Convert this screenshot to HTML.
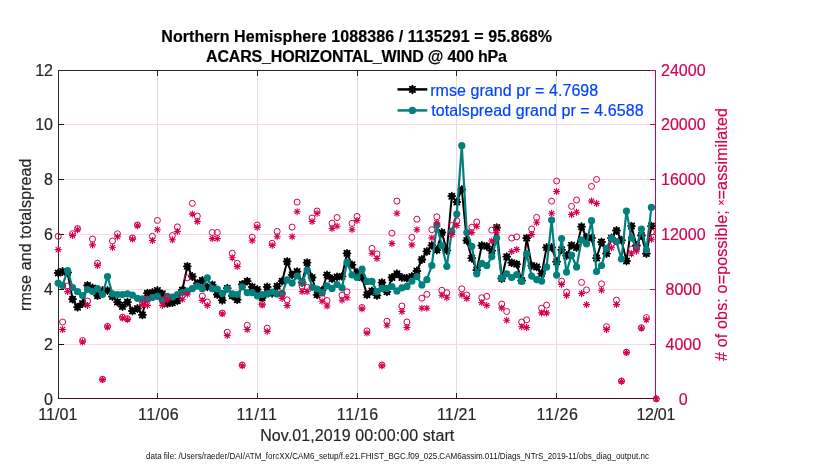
<!DOCTYPE html>
<html><head><meta charset="utf-8"><title>obs diag</title>
<style>html,body{margin:0;padding:0;background:#fff;width:830px;height:470px;overflow:hidden}svg{display:block}</style>
</head><body>
<svg width="830" height="470" viewBox="0 0 830 470">
<rect width="830" height="470" fill="#fff"/>
<g stroke="#dfdfdf" stroke-width="1" shape-rendering="crispEdges">
<line x1="157.5" y1="70" x2="157.5" y2="398"/>
<line x1="257.5" y1="70" x2="257.5" y2="398"/>
<line x1="357.5" y1="70" x2="357.5" y2="398"/>
<line x1="456.5" y1="70" x2="456.5" y2="398"/>
<line x1="556.5" y1="70" x2="556.5" y2="398"/>
</g>
<g stroke="#f8d9e4" stroke-width="1" shape-rendering="crispEdges">
<line x1="59" y1="124.5" x2="655" y2="124.5"/>
<line x1="59" y1="179.5" x2="655" y2="179.5"/>
<line x1="59" y1="234.5" x2="655" y2="234.5"/>
<line x1="59" y1="289.5" x2="655" y2="289.5"/>
<line x1="59" y1="344.5" x2="655" y2="344.5"/>
</g>
<g shape-rendering="crispEdges" stroke-width="1">
<line x1="58.5" y1="70" x2="58.5" y2="399" stroke="#262626"/>
<line x1="58" y1="70.5" x2="655" y2="70.5" stroke="#262626"/>
<line x1="58" y1="398.5" x2="656" y2="398.5" stroke="#3a1020"/>
<line x1="59" y1="124.5" x2="64" y2="124.5" stroke="#2a0810"/>
<line x1="59" y1="179.5" x2="64" y2="179.5" stroke="#2a0810"/>
<line x1="59" y1="234.5" x2="64" y2="234.5" stroke="#2a0810"/>
<line x1="59" y1="289.5" x2="64" y2="289.5" stroke="#2a0810"/>
<line x1="59" y1="344.5" x2="64" y2="344.5" stroke="#2a0810"/>
<line x1="157.5" y1="393" x2="157.5" y2="398" stroke="#262626"/>
<line x1="157.5" y1="71" x2="157.5" y2="76" stroke="#262626"/>
<line x1="257.5" y1="393" x2="257.5" y2="398" stroke="#262626"/>
<line x1="257.5" y1="71" x2="257.5" y2="76" stroke="#262626"/>
<line x1="357.5" y1="393" x2="357.5" y2="398" stroke="#262626"/>
<line x1="357.5" y1="71" x2="357.5" y2="76" stroke="#262626"/>
<line x1="456.5" y1="393" x2="456.5" y2="398" stroke="#262626"/>
<line x1="456.5" y1="71" x2="456.5" y2="76" stroke="#262626"/>
<line x1="556.5" y1="393" x2="556.5" y2="398" stroke="#262626"/>
<line x1="556.5" y1="71" x2="556.5" y2="76" stroke="#262626"/>
<line x1="650" y1="70.5" x2="655" y2="70.5" stroke="#d6004f"/>
<line x1="650" y1="124.5" x2="655" y2="124.5" stroke="#d6004f"/>
<line x1="650" y1="179.5" x2="655" y2="179.5" stroke="#d6004f"/>
<line x1="650" y1="234.5" x2="655" y2="234.5" stroke="#d6004f"/>
<line x1="650" y1="289.5" x2="655" y2="289.5" stroke="#d6004f"/>
<line x1="650" y1="344.5" x2="655" y2="344.5" stroke="#d6004f"/>
<line x1="655.5" y1="70" x2="655.5" y2="399" stroke="#d6004f"/>
</g>
<polyline points="58.20,273.0 62.59,271.5 67.58,272.5 72.57,299.2 77.56,307.2 82.55,303.5 87.54,285.4 92.53,288.0 97.52,295.7 102.51,290.5 107.50,290.5 112.49,296.5 117.48,302.1 122.47,306.5 127.46,302.1 132.45,311.0 137.44,308.5 142.43,314.9 147.42,293.2 152.41,292.5 157.40,290.5 162.39,293.8 167.38,303.4 172.37,302.7 177.36,300.8 182.35,290.0 187.34,266.3 192.33,276.5 197.32,283.5 202.31,280.4 207.30,286.8 212.29,284.8 217.28,294.5 222.27,300.3 227.26,288.2 232.25,295.8 237.24,299.7 242.23,284.3 247.22,281.2 252.21,286.9 257.20,289.5 262.19,297.8 267.18,286.9 272.17,293.3 277.16,286.3 282.15,281.2 287.14,261.4 292.13,274.8 297.12,271.6 302.11,282.5 307.10,262.6 312.09,277.5 317.08,294.8 322.07,290.3 327.06,275.0 332.05,278.8 337.04,276.9 342.03,276.3 347.02,253.3 352.01,264.8 357.00,272.5 361.99,277.5 366.98,294.8 371.97,290.9 376.96,295.4 381.95,282.6 386.94,291.8 391.93,277.5 396.92,273.7 401.91,277.5 406.90,278.2 411.89,276.5 416.88,271.0 421.87,259.5 426.86,251.4 431.85,245.4 436.84,250.1 441.83,232.5 446.82,250.5 451.81,196.2 456.80,202.0 461.79,189.5 466.78,240.5 471.77,258.2 476.76,270.1 481.75,245.5 486.74,246.3 491.73,250.7 496.72,227.6 501.71,278.5 506.70,256.7 511.69,262.7 516.68,264.2 521.67,280.5 526.66,238.1 531.65,265.6 536.64,266.9 541.63,273.6 546.62,247.5 551.61,247.5 556.60,261.7 561.59,249.8 566.58,255.5 571.57,245.3 576.56,247.5 581.55,226.7 586.54,237.5 591.53,237.9 596.52,258.1 601.51,242.0 606.50,253.6 611.49,238.0 616.48,230.5 621.47,240.2 626.46,261.0 631.45,226.1 636.44,245.5 641.43,235.5 646.42,253.6 651.41,226.1" fill="none" stroke="#000" stroke-width="2" stroke-linejoin="round"/>
<path d="M54.70 273.0h7M58.20 269.5v7M55.60 270.4l5.2 5.2M55.60 275.6l5.2 -5.2M59.09 271.5h7M62.59 268.0v7M59.99 268.9l5.2 5.2M59.99 274.1l5.2 -5.2M64.08 272.5h7M67.58 269.0v7M64.98 269.9l5.2 5.2M64.98 275.1l5.2 -5.2M69.07 299.2h7M72.57 295.7v7M69.97 296.6l5.2 5.2M69.97 301.8l5.2 -5.2M74.06 307.2h7M77.56 303.7v7M74.96 304.6l5.2 5.2M74.96 309.8l5.2 -5.2M79.05 303.5h7M82.55 300.0v7M79.95 300.9l5.2 5.2M79.95 306.1l5.2 -5.2M84.04 285.4h7M87.54 281.9v7M84.94 282.8l5.2 5.2M84.94 288.0l5.2 -5.2M89.03 288.0h7M92.53 284.5v7M89.93 285.4l5.2 5.2M89.93 290.6l5.2 -5.2M94.02 295.7h7M97.52 292.2v7M94.92 293.1l5.2 5.2M94.92 298.3l5.2 -5.2M99.01 290.5h7M102.51 287.0v7M99.91 287.9l5.2 5.2M99.91 293.1l5.2 -5.2M104.00 290.5h7M107.50 287.0v7M104.90 287.9l5.2 5.2M104.90 293.1l5.2 -5.2M108.99 296.5h7M112.49 293.0v7M109.89 293.9l5.2 5.2M109.89 299.1l5.2 -5.2M113.98 302.1h7M117.48 298.6v7M114.88 299.5l5.2 5.2M114.88 304.7l5.2 -5.2M118.97 306.5h7M122.47 303.0v7M119.87 303.9l5.2 5.2M119.87 309.1l5.2 -5.2M123.96 302.1h7M127.46 298.6v7M124.86 299.5l5.2 5.2M124.86 304.7l5.2 -5.2M128.95 311.0h7M132.45 307.5v7M129.85 308.4l5.2 5.2M129.85 313.6l5.2 -5.2M133.94 308.5h7M137.44 305.0v7M134.84 305.9l5.2 5.2M134.84 311.1l5.2 -5.2M138.93 314.9h7M142.43 311.4v7M139.83 312.3l5.2 5.2M139.83 317.5l5.2 -5.2M143.92 293.2h7M147.42 289.7v7M144.82 290.6l5.2 5.2M144.82 295.8l5.2 -5.2M148.91 292.5h7M152.41 289.0v7M149.81 289.9l5.2 5.2M149.81 295.1l5.2 -5.2M153.90 290.5h7M157.40 287.0v7M154.80 287.9l5.2 5.2M154.80 293.1l5.2 -5.2M158.89 293.8h7M162.39 290.3v7M159.79 291.2l5.2 5.2M159.79 296.4l5.2 -5.2M163.88 303.4h7M167.38 299.9v7M164.78 300.8l5.2 5.2M164.78 306.0l5.2 -5.2M168.87 302.7h7M172.37 299.2v7M169.77 300.1l5.2 5.2M169.77 305.3l5.2 -5.2M173.86 300.8h7M177.36 297.3v7M174.76 298.2l5.2 5.2M174.76 303.4l5.2 -5.2M178.85 290.0h7M182.35 286.5v7M179.75 287.4l5.2 5.2M179.75 292.6l5.2 -5.2M183.84 266.3h7M187.34 262.8v7M184.74 263.7l5.2 5.2M184.74 268.9l5.2 -5.2M188.83 276.5h7M192.33 273.0v7M189.73 273.9l5.2 5.2M189.73 279.1l5.2 -5.2M193.82 283.5h7M197.32 280.0v7M194.72 280.9l5.2 5.2M194.72 286.1l5.2 -5.2M198.81 280.4h7M202.31 276.9v7M199.71 277.8l5.2 5.2M199.71 283.0l5.2 -5.2M203.80 286.8h7M207.30 283.3v7M204.70 284.2l5.2 5.2M204.70 289.4l5.2 -5.2M208.79 284.8h7M212.29 281.3v7M209.69 282.2l5.2 5.2M209.69 287.4l5.2 -5.2M213.78 294.5h7M217.28 291.0v7M214.68 291.9l5.2 5.2M214.68 297.1l5.2 -5.2M218.77 300.3h7M222.27 296.8v7M219.67 297.7l5.2 5.2M219.67 302.9l5.2 -5.2M223.76 288.2h7M227.26 284.7v7M224.66 285.6l5.2 5.2M224.66 290.8l5.2 -5.2M228.75 295.8h7M232.25 292.3v7M229.65 293.2l5.2 5.2M229.65 298.4l5.2 -5.2M233.74 299.7h7M237.24 296.2v7M234.64 297.1l5.2 5.2M234.64 302.3l5.2 -5.2M238.73 284.3h7M242.23 280.8v7M239.63 281.7l5.2 5.2M239.63 286.9l5.2 -5.2M243.72 281.2h7M247.22 277.7v7M244.62 278.6l5.2 5.2M244.62 283.8l5.2 -5.2M248.71 286.9h7M252.21 283.4v7M249.61 284.3l5.2 5.2M249.61 289.5l5.2 -5.2M253.70 289.5h7M257.20 286.0v7M254.60 286.9l5.2 5.2M254.60 292.1l5.2 -5.2M258.69 297.8h7M262.19 294.3v7M259.59 295.2l5.2 5.2M259.59 300.4l5.2 -5.2M263.68 286.9h7M267.18 283.4v7M264.58 284.3l5.2 5.2M264.58 289.5l5.2 -5.2M268.67 293.3h7M272.17 289.8v7M269.57 290.7l5.2 5.2M269.57 295.9l5.2 -5.2M273.66 286.3h7M277.16 282.8v7M274.56 283.7l5.2 5.2M274.56 288.9l5.2 -5.2M278.65 281.2h7M282.15 277.7v7M279.55 278.6l5.2 5.2M279.55 283.8l5.2 -5.2M283.64 261.4h7M287.14 257.9v7M284.54 258.8l5.2 5.2M284.54 264.0l5.2 -5.2M288.63 274.8h7M292.13 271.3v7M289.53 272.2l5.2 5.2M289.53 277.4l5.2 -5.2M293.62 271.6h7M297.12 268.1v7M294.52 269.0l5.2 5.2M294.52 274.2l5.2 -5.2M298.61 282.5h7M302.11 279.0v7M299.51 279.9l5.2 5.2M299.51 285.1l5.2 -5.2M303.60 262.6h7M307.10 259.1v7M304.50 260.0l5.2 5.2M304.50 265.2l5.2 -5.2M308.59 277.5h7M312.09 274.0v7M309.49 274.9l5.2 5.2M309.49 280.1l5.2 -5.2M313.58 294.8h7M317.08 291.3v7M314.48 292.2l5.2 5.2M314.48 297.4l5.2 -5.2M318.57 290.3h7M322.07 286.8v7M319.47 287.7l5.2 5.2M319.47 292.9l5.2 -5.2M323.56 275.0h7M327.06 271.5v7M324.46 272.4l5.2 5.2M324.46 277.6l5.2 -5.2M328.55 278.8h7M332.05 275.3v7M329.45 276.2l5.2 5.2M329.45 281.4l5.2 -5.2M333.54 276.9h7M337.04 273.4v7M334.44 274.3l5.2 5.2M334.44 279.5l5.2 -5.2M338.53 276.3h7M342.03 272.8v7M339.43 273.7l5.2 5.2M339.43 278.9l5.2 -5.2M343.52 253.3h7M347.02 249.8v7M344.42 250.7l5.2 5.2M344.42 255.9l5.2 -5.2M348.51 264.8h7M352.01 261.3v7M349.41 262.2l5.2 5.2M349.41 267.4l5.2 -5.2M353.50 272.5h7M357.00 269.0v7M354.40 269.9l5.2 5.2M354.40 275.1l5.2 -5.2M358.49 277.5h7M361.99 274.0v7M359.39 274.9l5.2 5.2M359.39 280.1l5.2 -5.2M363.48 294.8h7M366.98 291.3v7M364.38 292.2l5.2 5.2M364.38 297.4l5.2 -5.2M368.47 290.9h7M371.97 287.4v7M369.37 288.3l5.2 5.2M369.37 293.5l5.2 -5.2M373.46 295.4h7M376.96 291.9v7M374.36 292.8l5.2 5.2M374.36 298.0l5.2 -5.2M378.45 282.6h7M381.95 279.1v7M379.35 280.0l5.2 5.2M379.35 285.2l5.2 -5.2M383.44 291.8h7M386.94 288.3v7M384.34 289.2l5.2 5.2M384.34 294.4l5.2 -5.2M388.43 277.5h7M391.93 274.0v7M389.33 274.9l5.2 5.2M389.33 280.1l5.2 -5.2M393.42 273.7h7M396.92 270.2v7M394.32 271.1l5.2 5.2M394.32 276.3l5.2 -5.2M398.41 277.5h7M401.91 274.0v7M399.31 274.9l5.2 5.2M399.31 280.1l5.2 -5.2M403.40 278.2h7M406.90 274.7v7M404.30 275.6l5.2 5.2M404.30 280.8l5.2 -5.2M408.39 276.5h7M411.89 273.0v7M409.29 273.9l5.2 5.2M409.29 279.1l5.2 -5.2M413.38 271.0h7M416.88 267.5v7M414.28 268.4l5.2 5.2M414.28 273.6l5.2 -5.2M418.37 259.5h7M421.87 256.0v7M419.27 256.9l5.2 5.2M419.27 262.1l5.2 -5.2M423.36 251.4h7M426.86 247.9v7M424.26 248.8l5.2 5.2M424.26 254.0l5.2 -5.2M428.35 245.4h7M431.85 241.9v7M429.25 242.8l5.2 5.2M429.25 248.0l5.2 -5.2M433.34 250.1h7M436.84 246.6v7M434.24 247.5l5.2 5.2M434.24 252.7l5.2 -5.2M438.33 232.5h7M441.83 229.0v7M439.23 229.9l5.2 5.2M439.23 235.1l5.2 -5.2M443.32 250.5h7M446.82 247.0v7M444.22 247.9l5.2 5.2M444.22 253.1l5.2 -5.2M448.31 196.2h7M451.81 192.7v7M449.21 193.6l5.2 5.2M449.21 198.8l5.2 -5.2M453.30 202.0h7M456.80 198.5v7M454.20 199.4l5.2 5.2M454.20 204.6l5.2 -5.2M458.29 189.5h7M461.79 186.0v7M459.19 186.9l5.2 5.2M459.19 192.1l5.2 -5.2M463.28 240.5h7M466.78 237.0v7M464.18 237.9l5.2 5.2M464.18 243.1l5.2 -5.2M468.27 258.2h7M471.77 254.7v7M469.17 255.6l5.2 5.2M469.17 260.8l5.2 -5.2M473.26 270.1h7M476.76 266.6v7M474.16 267.5l5.2 5.2M474.16 272.7l5.2 -5.2M478.25 245.5h7M481.75 242.0v7M479.15 242.9l5.2 5.2M479.15 248.1l5.2 -5.2M483.24 246.3h7M486.74 242.8v7M484.14 243.7l5.2 5.2M484.14 248.9l5.2 -5.2M488.23 250.7h7M491.73 247.2v7M489.13 248.1l5.2 5.2M489.13 253.3l5.2 -5.2M493.22 227.6h7M496.72 224.1v7M494.12 225.0l5.2 5.2M494.12 230.2l5.2 -5.2M498.21 278.5h7M501.71 275.0v7M499.11 275.9l5.2 5.2M499.11 281.1l5.2 -5.2M503.20 256.7h7M506.70 253.2v7M504.10 254.1l5.2 5.2M504.10 259.3l5.2 -5.2M508.19 262.7h7M511.69 259.2v7M509.09 260.1l5.2 5.2M509.09 265.3l5.2 -5.2M513.18 264.2h7M516.68 260.7v7M514.08 261.6l5.2 5.2M514.08 266.8l5.2 -5.2M518.17 280.5h7M521.67 277.0v7M519.07 277.9l5.2 5.2M519.07 283.1l5.2 -5.2M523.16 238.1h7M526.66 234.6v7M524.06 235.5l5.2 5.2M524.06 240.7l5.2 -5.2M528.15 265.6h7M531.65 262.1v7M529.05 263.0l5.2 5.2M529.05 268.2l5.2 -5.2M533.14 266.9h7M536.64 263.4v7M534.04 264.3l5.2 5.2M534.04 269.5l5.2 -5.2M538.13 273.6h7M541.63 270.1v7M539.03 271.0l5.2 5.2M539.03 276.2l5.2 -5.2M543.12 247.5h7M546.62 244.0v7M544.02 244.9l5.2 5.2M544.02 250.1l5.2 -5.2M548.11 247.5h7M551.61 244.0v7M549.01 244.9l5.2 5.2M549.01 250.1l5.2 -5.2M553.10 261.7h7M556.60 258.2v7M554.00 259.1l5.2 5.2M554.00 264.3l5.2 -5.2M558.09 249.8h7M561.59 246.3v7M558.99 247.2l5.2 5.2M558.99 252.4l5.2 -5.2M563.08 255.5h7M566.58 252.0v7M563.98 252.9l5.2 5.2M563.98 258.1l5.2 -5.2M568.07 245.3h7M571.57 241.8v7M568.97 242.7l5.2 5.2M568.97 247.9l5.2 -5.2M573.06 247.5h7M576.56 244.0v7M573.96 244.9l5.2 5.2M573.96 250.1l5.2 -5.2M578.05 226.7h7M581.55 223.2v7M578.95 224.1l5.2 5.2M578.95 229.3l5.2 -5.2M583.04 237.5h7M586.54 234.0v7M583.94 234.9l5.2 5.2M583.94 240.1l5.2 -5.2M588.03 237.9h7M591.53 234.4v7M588.93 235.3l5.2 5.2M588.93 240.5l5.2 -5.2M593.02 258.1h7M596.52 254.6v7M593.92 255.5l5.2 5.2M593.92 260.7l5.2 -5.2M598.01 242.0h7M601.51 238.5v7M598.91 239.4l5.2 5.2M598.91 244.6l5.2 -5.2M603.00 253.6h7M606.50 250.1v7M603.90 251.0l5.2 5.2M603.90 256.2l5.2 -5.2M607.99 238.0h7M611.49 234.5v7M608.89 235.4l5.2 5.2M608.89 240.6l5.2 -5.2M612.98 230.5h7M616.48 227.0v7M613.88 227.9l5.2 5.2M613.88 233.1l5.2 -5.2M617.97 240.2h7M621.47 236.7v7M618.87 237.6l5.2 5.2M618.87 242.8l5.2 -5.2M622.96 261.0h7M626.46 257.5v7M623.86 258.4l5.2 5.2M623.86 263.6l5.2 -5.2M627.95 226.1h7M631.45 222.6v7M628.85 223.5l5.2 5.2M628.85 228.7l5.2 -5.2M632.94 245.5h7M636.44 242.0v7M633.84 242.9l5.2 5.2M633.84 248.1l5.2 -5.2M637.93 235.5h7M641.43 232.0v7M638.83 232.9l5.2 5.2M638.83 238.1l5.2 -5.2M642.92 253.6h7M646.42 250.1v7M643.82 251.0l5.2 5.2M643.82 256.2l5.2 -5.2M647.91 226.1h7M651.41 222.6v7M648.81 223.5l5.2 5.2M648.81 228.7l5.2 -5.2" stroke="#000" stroke-width="1.8" stroke-linecap="round" fill="none"/>
<g fill="#000"><circle cx="58.20" cy="273.0" r="3.1"/><circle cx="62.59" cy="271.5" r="3.1"/><circle cx="67.58" cy="272.5" r="3.1"/><circle cx="72.57" cy="299.2" r="3.1"/><circle cx="77.56" cy="307.2" r="3.1"/><circle cx="82.55" cy="303.5" r="3.1"/><circle cx="87.54" cy="285.4" r="3.1"/><circle cx="92.53" cy="288.0" r="3.1"/><circle cx="97.52" cy="295.7" r="3.1"/><circle cx="102.51" cy="290.5" r="3.1"/><circle cx="107.50" cy="290.5" r="3.1"/><circle cx="112.49" cy="296.5" r="3.1"/><circle cx="117.48" cy="302.1" r="3.1"/><circle cx="122.47" cy="306.5" r="3.1"/><circle cx="127.46" cy="302.1" r="3.1"/><circle cx="132.45" cy="311.0" r="3.1"/><circle cx="137.44" cy="308.5" r="3.1"/><circle cx="142.43" cy="314.9" r="3.1"/><circle cx="147.42" cy="293.2" r="3.1"/><circle cx="152.41" cy="292.5" r="3.1"/><circle cx="157.40" cy="290.5" r="3.1"/><circle cx="162.39" cy="293.8" r="3.1"/><circle cx="167.38" cy="303.4" r="3.1"/><circle cx="172.37" cy="302.7" r="3.1"/><circle cx="177.36" cy="300.8" r="3.1"/><circle cx="182.35" cy="290.0" r="3.1"/><circle cx="187.34" cy="266.3" r="3.1"/><circle cx="192.33" cy="276.5" r="3.1"/><circle cx="197.32" cy="283.5" r="3.1"/><circle cx="202.31" cy="280.4" r="3.1"/><circle cx="207.30" cy="286.8" r="3.1"/><circle cx="212.29" cy="284.8" r="3.1"/><circle cx="217.28" cy="294.5" r="3.1"/><circle cx="222.27" cy="300.3" r="3.1"/><circle cx="227.26" cy="288.2" r="3.1"/><circle cx="232.25" cy="295.8" r="3.1"/><circle cx="237.24" cy="299.7" r="3.1"/><circle cx="242.23" cy="284.3" r="3.1"/><circle cx="247.22" cy="281.2" r="3.1"/><circle cx="252.21" cy="286.9" r="3.1"/><circle cx="257.20" cy="289.5" r="3.1"/><circle cx="262.19" cy="297.8" r="3.1"/><circle cx="267.18" cy="286.9" r="3.1"/><circle cx="272.17" cy="293.3" r="3.1"/><circle cx="277.16" cy="286.3" r="3.1"/><circle cx="282.15" cy="281.2" r="3.1"/><circle cx="287.14" cy="261.4" r="3.1"/><circle cx="292.13" cy="274.8" r="3.1"/><circle cx="297.12" cy="271.6" r="3.1"/><circle cx="302.11" cy="282.5" r="3.1"/><circle cx="307.10" cy="262.6" r="3.1"/><circle cx="312.09" cy="277.5" r="3.1"/><circle cx="317.08" cy="294.8" r="3.1"/><circle cx="322.07" cy="290.3" r="3.1"/><circle cx="327.06" cy="275.0" r="3.1"/><circle cx="332.05" cy="278.8" r="3.1"/><circle cx="337.04" cy="276.9" r="3.1"/><circle cx="342.03" cy="276.3" r="3.1"/><circle cx="347.02" cy="253.3" r="3.1"/><circle cx="352.01" cy="264.8" r="3.1"/><circle cx="357.00" cy="272.5" r="3.1"/><circle cx="361.99" cy="277.5" r="3.1"/><circle cx="366.98" cy="294.8" r="3.1"/><circle cx="371.97" cy="290.9" r="3.1"/><circle cx="376.96" cy="295.4" r="3.1"/><circle cx="381.95" cy="282.6" r="3.1"/><circle cx="386.94" cy="291.8" r="3.1"/><circle cx="391.93" cy="277.5" r="3.1"/><circle cx="396.92" cy="273.7" r="3.1"/><circle cx="401.91" cy="277.5" r="3.1"/><circle cx="406.90" cy="278.2" r="3.1"/><circle cx="411.89" cy="276.5" r="3.1"/><circle cx="416.88" cy="271.0" r="3.1"/><circle cx="421.87" cy="259.5" r="3.1"/><circle cx="426.86" cy="251.4" r="3.1"/><circle cx="431.85" cy="245.4" r="3.1"/><circle cx="436.84" cy="250.1" r="3.1"/><circle cx="441.83" cy="232.5" r="3.1"/><circle cx="446.82" cy="250.5" r="3.1"/><circle cx="451.81" cy="196.2" r="3.1"/><circle cx="456.80" cy="202.0" r="3.1"/><circle cx="461.79" cy="189.5" r="3.1"/><circle cx="466.78" cy="240.5" r="3.1"/><circle cx="471.77" cy="258.2" r="3.1"/><circle cx="476.76" cy="270.1" r="3.1"/><circle cx="481.75" cy="245.5" r="3.1"/><circle cx="486.74" cy="246.3" r="3.1"/><circle cx="491.73" cy="250.7" r="3.1"/><circle cx="496.72" cy="227.6" r="3.1"/><circle cx="501.71" cy="278.5" r="3.1"/><circle cx="506.70" cy="256.7" r="3.1"/><circle cx="511.69" cy="262.7" r="3.1"/><circle cx="516.68" cy="264.2" r="3.1"/><circle cx="521.67" cy="280.5" r="3.1"/><circle cx="526.66" cy="238.1" r="3.1"/><circle cx="531.65" cy="265.6" r="3.1"/><circle cx="536.64" cy="266.9" r="3.1"/><circle cx="541.63" cy="273.6" r="3.1"/><circle cx="546.62" cy="247.5" r="3.1"/><circle cx="551.61" cy="247.5" r="3.1"/><circle cx="556.60" cy="261.7" r="3.1"/><circle cx="561.59" cy="249.8" r="3.1"/><circle cx="566.58" cy="255.5" r="3.1"/><circle cx="571.57" cy="245.3" r="3.1"/><circle cx="576.56" cy="247.5" r="3.1"/><circle cx="581.55" cy="226.7" r="3.1"/><circle cx="586.54" cy="237.5" r="3.1"/><circle cx="591.53" cy="237.9" r="3.1"/><circle cx="596.52" cy="258.1" r="3.1"/><circle cx="601.51" cy="242.0" r="3.1"/><circle cx="606.50" cy="253.6" r="3.1"/><circle cx="611.49" cy="238.0" r="3.1"/><circle cx="616.48" cy="230.5" r="3.1"/><circle cx="621.47" cy="240.2" r="3.1"/><circle cx="626.46" cy="261.0" r="3.1"/><circle cx="631.45" cy="226.1" r="3.1"/><circle cx="636.44" cy="245.5" r="3.1"/><circle cx="641.43" cy="235.5" r="3.1"/><circle cx="646.42" cy="253.6" r="3.1"/><circle cx="651.41" cy="226.1" r="3.1"/></g>
<polyline points="58.20,283.2 62.59,285.4 67.58,270.5 72.57,287.5 77.56,291.7 82.55,295.5 87.54,289.5 92.53,291.5 97.52,288.5 102.51,294.5 107.50,276.5 112.49,293.8 117.48,294.5 122.47,294.5 127.46,293.8 132.45,295.1 137.44,298.3 142.43,298.9 147.42,299.5 152.41,297.5 157.40,296.3 162.39,300.2 167.38,296.3 172.37,297.0 177.36,294.5 182.35,292.5 187.34,291.2 192.33,288.7 197.32,286.1 202.31,288.7 207.30,277.8 212.29,288.7 217.28,289.0 222.27,293.3 227.26,288.8 232.25,293.9 237.24,294.5 242.23,286.9 247.22,292.6 252.21,292.6 257.20,295.8 262.19,294.5 267.18,293.9 272.17,292.0 277.16,293.9 282.15,293.3 287.14,279.9 292.13,283.1 297.12,276.0 302.11,282.5 307.10,270.0 312.09,287.3 317.08,289.0 322.07,292.9 327.06,285.8 332.05,288.4 337.04,284.5 342.03,287.8 347.02,262.2 352.01,275.0 357.00,277.5 361.99,269.2 366.98,281.4 371.97,281.4 376.96,291.6 381.95,288.4 386.94,288.4 391.93,286.5 396.92,290.9 401.91,287.8 406.90,286.4 411.89,281.2 416.88,276.7 421.87,284.9 426.86,279.7 431.85,265.5 436.84,225.0 441.83,245.5 446.82,266.3 451.81,231.4 456.80,214.1 461.79,145.7 466.78,232.5 471.77,246.3 476.76,273.8 481.75,263.4 486.74,265.6 491.73,256.7 496.72,238.1 501.71,277.8 506.70,273.8 511.69,277.5 516.68,274.6 521.67,281.5 526.66,253.7 531.65,276.1 536.64,279.6 541.63,281.1 546.62,266.9 551.61,220.0 556.60,275.1 561.59,238.6 566.58,272.1 571.57,255.0 576.56,266.9 581.55,240.1 586.54,243.8 591.53,220.7 596.52,271.5 601.51,265.5 606.50,248.4 611.49,238.0 616.48,241.7 621.47,259.0 626.46,211.1 631.45,238.0 636.44,248.0 641.43,229.0 646.42,249.9 651.41,207.4" fill="none" stroke="#02807e" stroke-width="2.2" stroke-linejoin="round"/>
<g fill="#02807e">
<circle cx="58.20" cy="283.2" r="3.6"/>
<circle cx="62.59" cy="285.4" r="3.6"/>
<circle cx="67.58" cy="270.5" r="3.6"/>
<circle cx="72.57" cy="287.5" r="3.6"/>
<circle cx="77.56" cy="291.7" r="3.6"/>
<circle cx="82.55" cy="295.5" r="3.6"/>
<circle cx="87.54" cy="289.5" r="3.6"/>
<circle cx="92.53" cy="291.5" r="3.6"/>
<circle cx="97.52" cy="288.5" r="3.6"/>
<circle cx="102.51" cy="294.5" r="3.6"/>
<circle cx="107.50" cy="276.5" r="3.6"/>
<circle cx="112.49" cy="293.8" r="3.6"/>
<circle cx="117.48" cy="294.5" r="3.6"/>
<circle cx="122.47" cy="294.5" r="3.6"/>
<circle cx="127.46" cy="293.8" r="3.6"/>
<circle cx="132.45" cy="295.1" r="3.6"/>
<circle cx="137.44" cy="298.3" r="3.6"/>
<circle cx="142.43" cy="298.9" r="3.6"/>
<circle cx="147.42" cy="299.5" r="3.6"/>
<circle cx="152.41" cy="297.5" r="3.6"/>
<circle cx="157.40" cy="296.3" r="3.6"/>
<circle cx="162.39" cy="300.2" r="3.6"/>
<circle cx="167.38" cy="296.3" r="3.6"/>
<circle cx="172.37" cy="297.0" r="3.6"/>
<circle cx="177.36" cy="294.5" r="3.6"/>
<circle cx="182.35" cy="292.5" r="3.6"/>
<circle cx="187.34" cy="291.2" r="3.6"/>
<circle cx="192.33" cy="288.7" r="3.6"/>
<circle cx="197.32" cy="286.1" r="3.6"/>
<circle cx="202.31" cy="288.7" r="3.6"/>
<circle cx="207.30" cy="277.8" r="3.6"/>
<circle cx="212.29" cy="288.7" r="3.6"/>
<circle cx="217.28" cy="289.0" r="3.6"/>
<circle cx="222.27" cy="293.3" r="3.6"/>
<circle cx="227.26" cy="288.8" r="3.6"/>
<circle cx="232.25" cy="293.9" r="3.6"/>
<circle cx="237.24" cy="294.5" r="3.6"/>
<circle cx="242.23" cy="286.9" r="3.6"/>
<circle cx="247.22" cy="292.6" r="3.6"/>
<circle cx="252.21" cy="292.6" r="3.6"/>
<circle cx="257.20" cy="295.8" r="3.6"/>
<circle cx="262.19" cy="294.5" r="3.6"/>
<circle cx="267.18" cy="293.9" r="3.6"/>
<circle cx="272.17" cy="292.0" r="3.6"/>
<circle cx="277.16" cy="293.9" r="3.6"/>
<circle cx="282.15" cy="293.3" r="3.6"/>
<circle cx="287.14" cy="279.9" r="3.6"/>
<circle cx="292.13" cy="283.1" r="3.6"/>
<circle cx="297.12" cy="276.0" r="3.6"/>
<circle cx="302.11" cy="282.5" r="3.6"/>
<circle cx="307.10" cy="270.0" r="3.6"/>
<circle cx="312.09" cy="287.3" r="3.6"/>
<circle cx="317.08" cy="289.0" r="3.6"/>
<circle cx="322.07" cy="292.9" r="3.6"/>
<circle cx="327.06" cy="285.8" r="3.6"/>
<circle cx="332.05" cy="288.4" r="3.6"/>
<circle cx="337.04" cy="284.5" r="3.6"/>
<circle cx="342.03" cy="287.8" r="3.6"/>
<circle cx="347.02" cy="262.2" r="3.6"/>
<circle cx="352.01" cy="275.0" r="3.6"/>
<circle cx="357.00" cy="277.5" r="3.6"/>
<circle cx="361.99" cy="269.2" r="3.6"/>
<circle cx="366.98" cy="281.4" r="3.6"/>
<circle cx="371.97" cy="281.4" r="3.6"/>
<circle cx="376.96" cy="291.6" r="3.6"/>
<circle cx="381.95" cy="288.4" r="3.6"/>
<circle cx="386.94" cy="288.4" r="3.6"/>
<circle cx="391.93" cy="286.5" r="3.6"/>
<circle cx="396.92" cy="290.9" r="3.6"/>
<circle cx="401.91" cy="287.8" r="3.6"/>
<circle cx="406.90" cy="286.4" r="3.6"/>
<circle cx="411.89" cy="281.2" r="3.6"/>
<circle cx="416.88" cy="276.7" r="3.6"/>
<circle cx="421.87" cy="284.9" r="3.6"/>
<circle cx="426.86" cy="279.7" r="3.6"/>
<circle cx="431.85" cy="265.5" r="3.6"/>
<circle cx="436.84" cy="225.0" r="3.6"/>
<circle cx="441.83" cy="245.5" r="3.6"/>
<circle cx="446.82" cy="266.3" r="3.6"/>
<circle cx="451.81" cy="231.4" r="3.6"/>
<circle cx="456.80" cy="214.1" r="3.6"/>
<circle cx="461.79" cy="145.7" r="3.6"/>
<circle cx="466.78" cy="232.5" r="3.6"/>
<circle cx="471.77" cy="246.3" r="3.6"/>
<circle cx="476.76" cy="273.8" r="3.6"/>
<circle cx="481.75" cy="263.4" r="3.6"/>
<circle cx="486.74" cy="265.6" r="3.6"/>
<circle cx="491.73" cy="256.7" r="3.6"/>
<circle cx="496.72" cy="238.1" r="3.6"/>
<circle cx="501.71" cy="277.8" r="3.6"/>
<circle cx="506.70" cy="273.8" r="3.6"/>
<circle cx="511.69" cy="277.5" r="3.6"/>
<circle cx="516.68" cy="274.6" r="3.6"/>
<circle cx="521.67" cy="281.5" r="3.6"/>
<circle cx="526.66" cy="253.7" r="3.6"/>
<circle cx="531.65" cy="276.1" r="3.6"/>
<circle cx="536.64" cy="279.6" r="3.6"/>
<circle cx="541.63" cy="281.1" r="3.6"/>
<circle cx="546.62" cy="266.9" r="3.6"/>
<circle cx="551.61" cy="220.0" r="3.6"/>
<circle cx="556.60" cy="275.1" r="3.6"/>
<circle cx="561.59" cy="238.6" r="3.6"/>
<circle cx="566.58" cy="272.1" r="3.6"/>
<circle cx="571.57" cy="255.0" r="3.6"/>
<circle cx="576.56" cy="266.9" r="3.6"/>
<circle cx="581.55" cy="240.1" r="3.6"/>
<circle cx="586.54" cy="243.8" r="3.6"/>
<circle cx="591.53" cy="220.7" r="3.6"/>
<circle cx="596.52" cy="271.5" r="3.6"/>
<circle cx="601.51" cy="265.5" r="3.6"/>
<circle cx="606.50" cy="248.4" r="3.6"/>
<circle cx="611.49" cy="238.0" r="3.6"/>
<circle cx="616.48" cy="241.7" r="3.6"/>
<circle cx="621.47" cy="259.0" r="3.6"/>
<circle cx="626.46" cy="211.1" r="3.6"/>
<circle cx="631.45" cy="238.0" r="3.6"/>
<circle cx="636.44" cy="248.0" r="3.6"/>
<circle cx="641.43" cy="229.0" r="3.6"/>
<circle cx="646.42" cy="249.9" r="3.6"/>
<circle cx="651.41" cy="207.4" r="3.6"/>
</g>
<g fill="none" stroke="#d6004f" stroke-width="1"><circle cx="58.20" cy="236.3" r="3"/><circle cx="62.59" cy="322.0" r="3"/><circle cx="67.58" cy="286.0" r="3"/><circle cx="72.57" cy="233.7" r="3"/><circle cx="77.56" cy="228.5" r="3"/><circle cx="82.55" cy="340.5" r="3"/><circle cx="87.54" cy="301.0" r="3"/><circle cx="92.53" cy="239.1" r="3"/><circle cx="97.52" cy="263.2" r="3"/><circle cx="102.51" cy="379.3" r="3"/><circle cx="107.50" cy="326.3" r="3"/><circle cx="112.49" cy="241.0" r="3"/><circle cx="117.48" cy="233.7" r="3"/><circle cx="122.47" cy="317.2" r="3"/><circle cx="127.46" cy="318.8" r="3"/><circle cx="132.45" cy="237.9" r="3"/><circle cx="137.44" cy="225.0" r="3"/><circle cx="142.43" cy="303.5" r="3"/><circle cx="147.42" cy="299.0" r="3"/><circle cx="152.41" cy="236.3" r="3"/><circle cx="157.40" cy="220.4" r="3"/><circle cx="162.39" cy="300.4" r="3"/><circle cx="167.38" cy="297.5" r="3"/><circle cx="172.37" cy="235.6" r="3"/><circle cx="177.36" cy="226.9" r="3"/><circle cx="182.35" cy="295.3" r="3"/><circle cx="187.34" cy="277.8" r="3"/><circle cx="192.33" cy="203.4" r="3"/><circle cx="197.32" cy="216.0" r="3"/><circle cx="202.31" cy="296.0" r="3"/><circle cx="207.30" cy="302.0" r="3"/><circle cx="212.29" cy="232.5" r="3"/><circle cx="217.28" cy="232.5" r="3"/><circle cx="222.27" cy="313.0" r="3"/><circle cx="227.26" cy="332.2" r="3"/><circle cx="232.25" cy="253.2" r="3"/><circle cx="237.24" cy="263.3" r="3"/><circle cx="242.23" cy="365.0" r="3"/><circle cx="247.22" cy="325.3" r="3"/><circle cx="252.21" cy="237.2" r="3"/><circle cx="257.20" cy="225.0" r="3"/><circle cx="262.19" cy="304.3" r="3"/><circle cx="267.18" cy="328.1" r="3"/><circle cx="272.17" cy="243.3" r="3"/><circle cx="277.16" cy="231.4" r="3"/><circle cx="282.15" cy="294.2" r="3"/><circle cx="287.14" cy="299.8" r="3"/><circle cx="292.13" cy="227.1" r="3"/><circle cx="297.12" cy="202.1" r="3"/><circle cx="302.11" cy="286.2" r="3"/><circle cx="307.10" cy="287.2" r="3"/><circle cx="312.09" cy="218.0" r="3"/><circle cx="317.08" cy="211.0" r="3"/><circle cx="322.07" cy="297.6" r="3"/><circle cx="327.06" cy="300.5" r="3"/><circle cx="332.05" cy="223.2" r="3"/><circle cx="337.04" cy="217.5" r="3"/><circle cx="342.03" cy="295.2" r="3"/><circle cx="347.02" cy="291.8" r="3"/><circle cx="352.01" cy="223.4" r="3"/><circle cx="357.00" cy="216.4" r="3"/><circle cx="361.99" cy="307.5" r="3"/><circle cx="366.98" cy="330.9" r="3"/><circle cx="371.97" cy="248.4" r="3"/><circle cx="376.96" cy="253.9" r="3"/><circle cx="381.95" cy="365.0" r="3"/><circle cx="386.94" cy="321.2" r="3"/><circle cx="391.93" cy="233.2" r="3"/><circle cx="396.92" cy="201.1" r="3"/><circle cx="401.91" cy="306.0" r="3"/><circle cx="406.90" cy="322.0" r="3"/><circle cx="411.89" cy="237.4" r="3"/><circle cx="416.88" cy="219.2" r="3"/><circle cx="421.87" cy="298.2" r="3"/><circle cx="426.86" cy="294.3" r="3"/><circle cx="431.85" cy="229.7" r="3"/><circle cx="436.84" cy="216.8" r="3"/><circle cx="441.83" cy="290.3" r="3"/><circle cx="446.82" cy="292.7" r="3"/><circle cx="451.81" cy="225.5" r="3"/><circle cx="456.80" cy="220.8" r="3"/><circle cx="461.79" cy="288.8" r="3"/><circle cx="466.78" cy="294.9" r="3"/><circle cx="471.77" cy="227.2" r="3"/><circle cx="476.76" cy="222.0" r="3"/><circle cx="481.75" cy="297.7" r="3"/><circle cx="486.74" cy="296.3" r="3"/><circle cx="491.73" cy="230.2" r="3"/><circle cx="496.72" cy="228.0" r="3"/><circle cx="501.71" cy="304.0" r="3"/><circle cx="506.70" cy="311.5" r="3"/><circle cx="511.69" cy="238.1" r="3"/><circle cx="516.68" cy="236.8" r="3"/><circle cx="521.67" cy="322.0" r="3"/><circle cx="526.66" cy="319.8" r="3"/><circle cx="531.65" cy="229.0" r="3"/><circle cx="536.64" cy="217.4" r="3"/><circle cx="541.63" cy="308.2" r="3"/><circle cx="546.62" cy="305.1" r="3"/><circle cx="551.61" cy="201.1" r="3"/><circle cx="556.60" cy="181.0" r="3"/><circle cx="561.59" cy="281.1" r="3"/><circle cx="566.58" cy="292.1" r="3"/><circle cx="571.57" cy="206.3" r="3"/><circle cx="576.56" cy="200.0" r="3"/><circle cx="581.55" cy="282.4" r="3"/><circle cx="586.54" cy="289.9" r="3"/><circle cx="591.53" cy="186.4" r="3"/><circle cx="596.52" cy="179.4" r="3"/><circle cx="601.51" cy="283.8" r="3"/><circle cx="606.50" cy="326.7" r="3"/><circle cx="611.49" cy="244.5" r="3"/><circle cx="616.48" cy="300.2" r="3"/><circle cx="621.47" cy="381.0" r="3"/><circle cx="626.46" cy="352.2" r="3"/><circle cx="631.45" cy="249.0" r="3"/><circle cx="636.44" cy="247.8" r="3"/><circle cx="641.43" cy="327.7" r="3"/><circle cx="646.42" cy="317.6" r="3"/><circle cx="651.41" cy="232.0" r="3"/><circle cx="656.30" cy="398.8" r="3"/></g>
<path d="M54.70 249.6h7M58.20 246.1v7M55.70 247.1l5 5M55.70 252.1l5 -5M59.09 329.5h7M62.59 326.0v7M60.09 327.0l5 5M60.09 332.0l5 -5M64.08 291.6h7M67.58 288.1v7M65.08 289.1l5 5M65.08 294.1l5 -5M69.07 235.6h7M72.57 232.1v7M70.07 233.1l5 5M70.07 238.1l5 -5M74.06 229.7h7M77.56 226.2v7M75.06 227.2l5 5M75.06 232.2l5 -5M79.05 342.0h7M82.55 338.5v7M80.05 339.5l5 5M80.05 344.5l5 -5M84.04 305.4h7M87.54 301.9v7M85.04 302.9l5 5M85.04 307.9l5 -5M89.03 244.9h7M92.53 241.4v7M90.03 242.4l5 5M90.03 247.4l5 -5M94.02 265.5h7M97.52 262.0v7M95.02 263.0l5 5M95.02 268.0l5 -5M99.01 379.6h7M102.51 376.1v7M100.01 377.1l5 5M100.01 382.1l5 -5M104.00 327.0h7M107.50 323.5v7M105.00 324.5l5 5M105.00 329.5l5 -5M108.99 247.3h7M112.49 243.8v7M109.99 244.8l5 5M109.99 249.8l5 -5M113.98 236.7h7M117.48 233.2v7M114.98 234.2l5 5M114.98 239.2l5 -5M118.97 318.0h7M122.47 314.5v7M119.97 315.5l5 5M119.97 320.5l5 -5M123.96 319.5h7M127.46 316.0v7M124.96 317.0l5 5M124.96 322.0l5 -5M128.95 239.1h7M132.45 235.6v7M129.95 236.6l5 5M129.95 241.6l5 -5M133.94 225.7h7M137.44 222.2v7M134.94 223.2l5 5M134.94 228.2l5 -5M138.93 304.5h7M142.43 301.0v7M139.93 302.0l5 5M139.93 307.0l5 -5M143.92 305.4h7M147.42 301.9v7M144.92 302.9l5 5M144.92 307.9l5 -5M148.91 240.5h7M152.41 237.0v7M149.91 238.0l5 5M149.91 243.0l5 -5M153.90 229.7h7M157.40 226.2v7M154.90 227.2l5 5M154.90 232.2l5 -5M158.89 305.4h7M162.39 301.9v7M159.89 302.9l5 5M159.89 307.9l5 -5M163.88 299.8h7M167.38 296.3v7M164.88 297.3l5 5M164.88 302.3l5 -5M168.87 239.8h7M172.37 236.3v7M169.87 237.3l5 5M169.87 242.3l5 -5M173.86 231.6h7M177.36 228.1v7M174.86 229.1l5 5M174.86 234.1l5 -5M178.85 299.3h7M182.35 295.8v7M179.85 296.8l5 5M179.85 301.8l5 -5M183.84 294.2h7M187.34 290.7v7M184.84 291.7l5 5M184.84 296.7l5 -5M188.83 214.1h7M192.33 210.6v7M189.83 211.6l5 5M189.83 216.6l5 -5M193.82 221.5h7M197.32 218.0v7M194.82 219.0l5 5M194.82 224.0l5 -5M198.81 300.4h7M202.31 296.9v7M199.81 297.9l5 5M199.81 302.9l5 -5M203.80 305.4h7M207.30 301.9v7M204.80 302.9l5 5M204.80 307.9l5 -5M208.79 238.6h7M212.29 235.1v7M209.79 236.1l5 5M209.79 241.1l5 -5M213.78 238.6h7M217.28 235.1v7M214.78 236.1l5 5M214.78 241.1l5 -5M218.77 313.8h7M222.27 310.3v7M219.77 311.3l5 5M219.77 316.3l5 -5M223.76 335.6h7M227.26 332.1v7M224.76 333.1l5 5M224.76 338.1l5 -5M228.75 257.8h7M232.25 254.3v7M229.75 255.3l5 5M229.75 260.3l5 -5M233.74 266.6h7M237.24 263.1v7M234.74 264.1l5 5M234.74 269.1l5 -5M238.73 365.8h7M242.23 362.3v7M239.73 363.3l5 5M239.73 368.3l5 -5M243.72 329.5h7M247.22 326.0v7M244.72 327.0l5 5M244.72 332.0l5 -5M248.71 240.7h7M252.21 237.2v7M249.71 238.2l5 5M249.71 243.2l5 -5M253.70 227.4h7M257.20 223.9v7M254.70 224.9l5 5M254.70 229.9l5 -5M258.69 304.8h7M262.19 301.3v7M259.69 302.3l5 5M259.69 307.3l5 -5M263.68 331.4h7M267.18 327.9v7M264.68 328.9l5 5M264.68 333.9l5 -5M268.67 245.4h7M272.17 241.9v7M269.67 242.9l5 5M269.67 247.9l5 -5M273.66 236.7h7M277.16 233.2v7M274.66 234.2l5 5M274.66 239.2l5 -5M278.65 298.4h7M282.15 294.9v7M279.65 295.9l5 5M279.65 300.9l5 -5M283.64 305.5h7M287.14 302.0v7M284.64 303.0l5 5M284.64 308.0l5 -5M288.63 236.7h7M292.13 233.2v7M289.63 234.2l5 5M289.63 239.2l5 -5M293.62 211.7h7M297.12 208.2v7M294.62 209.2l5 5M294.62 214.2l5 -5M298.61 291.5h7M302.11 288.0v7M299.61 289.0l5 5M299.61 294.0l5 -5M303.60 291.5h7M307.10 288.0v7M304.60 289.0l5 5M304.60 294.0l5 -5M308.59 221.5h7M312.09 218.0v7M309.59 219.0l5 5M309.59 224.0l5 -5M313.58 213.3h7M317.08 209.8v7M314.58 210.8l5 5M314.58 215.8l5 -5M318.57 301.3h7M322.07 297.8v7M319.57 298.8l5 5M319.57 303.8l5 -5M323.56 306.0h7M327.06 302.5v7M324.56 303.5l5 5M324.56 308.5l5 -5M328.55 228.5h7M332.05 225.0v7M329.55 226.0l5 5M329.55 231.0l5 -5M333.54 226.2h7M337.04 222.7v7M334.54 223.7l5 5M334.54 228.7l5 -5M338.53 300.2h7M342.03 296.7v7M339.53 297.7l5 5M339.53 302.7l5 -5M343.52 297.8h7M347.02 294.3v7M344.52 295.3l5 5M344.52 300.3l5 -5M348.51 229.7h7M352.01 226.2v7M349.51 227.2l5 5M349.51 232.2l5 -5M353.50 220.4h7M357.00 216.9v7M354.50 217.9l5 5M354.50 222.9l5 -5M358.49 308.8h7M361.99 305.3v7M359.49 306.3l5 5M359.49 311.3l5 -5M363.48 333.1h7M366.98 329.6v7M364.48 330.6l5 5M364.48 335.6l5 -5M368.47 253.2h7M371.97 249.7v7M369.47 250.7l5 5M369.47 255.7l5 -5M373.46 258.5h7M376.96 255.0v7M374.46 256.0l5 5M374.46 261.0l5 -5M378.45 365.8h7M381.95 362.3v7M379.45 363.3l5 5M379.45 368.3l5 -5M383.44 325.3h7M386.94 321.8v7M384.44 322.8l5 5M384.44 327.8l5 -5M388.43 243.5h7M391.93 240.0v7M389.43 241.0l5 5M389.43 246.0l5 -5M393.42 213.3h7M396.92 209.8v7M394.42 210.8l5 5M394.42 215.8l5 -5M398.41 311.5h7M401.91 308.0v7M399.41 309.0l5 5M399.41 314.0l5 -5M403.40 327.5h7M406.90 324.0v7M404.40 325.0l5 5M404.40 330.0l5 -5M408.39 244.9h7M411.89 241.4v7M409.39 242.4l5 5M409.39 247.4l5 -5M413.38 229.7h7M416.88 226.2v7M414.38 227.2l5 5M414.38 232.2l5 -5M418.37 308.2h7M421.87 304.7v7M419.37 305.7l5 5M419.37 310.7l5 -5M423.36 308.2h7M426.86 304.7v7M424.36 305.7l5 5M424.36 310.7l5 -5M428.35 237.9h7M431.85 234.4v7M429.35 235.4l5 5M429.35 240.4l5 -5M433.34 222.7h7M436.84 219.2v7M434.34 220.2l5 5M434.34 225.2l5 -5M438.33 295.2h7M441.83 291.7v7M439.33 292.7l5 5M439.33 297.7l5 -5M443.32 297.7h7M446.82 294.2v7M444.32 295.2l5 5M444.32 300.2l5 -5M448.31 234.4h7M451.81 230.9v7M449.31 231.9l5 5M449.31 236.9l5 -5M453.30 225.5h7M456.80 222.0v7M454.30 223.0l5 5M454.30 228.0l5 -5M458.29 294.9h7M461.79 291.4v7M459.29 292.4l5 5M459.29 297.4l5 -5M463.28 298.5h7M466.78 295.0v7M464.28 296.0l5 5M464.28 301.0l5 -5M468.27 232.6h7M471.77 229.1v7M469.27 230.1l5 5M469.27 235.1l5 -5M473.26 226.3h7M476.76 222.8v7M474.26 223.8l5 5M474.26 228.8l5 -5M478.25 302.6h7M481.75 299.1v7M479.25 300.1l5 5M479.25 305.1l5 -5M483.24 305.4h7M486.74 301.9v7M484.24 302.9l5 5M484.24 307.9l5 -5M488.23 241.0h7M491.73 237.5v7M489.23 238.5l5 5M489.23 243.5l5 -5M493.22 232.3h7M496.72 228.8v7M494.22 229.8l5 5M494.22 234.8l5 -5M498.21 307.9h7M501.71 304.4v7M499.21 305.4l5 5M499.21 310.4l5 -5M503.20 320.3h7M506.70 316.8v7M504.20 317.8l5 5M504.20 322.8l5 -5M508.19 251.6h7M511.69 248.1v7M509.19 249.1l5 5M509.19 254.1l5 -5M513.18 249.5h7M516.68 246.0v7M514.18 247.0l5 5M514.18 252.0l5 -5M518.17 326.7h7M521.67 323.2v7M519.17 324.2l5 5M519.17 329.2l5 -5M523.16 327.5h7M526.66 324.0v7M524.16 325.0l5 5M524.16 330.0l5 -5M528.15 234.5h7M531.65 231.0v7M529.15 232.0l5 5M529.15 237.0l5 -5M533.14 222.7h7M536.64 219.2v7M534.14 220.2l5 5M534.14 225.2l5 -5M538.13 312.9h7M541.63 309.4v7M539.13 310.4l5 5M539.13 315.4l5 -5M543.12 312.9h7M546.62 309.4v7M544.12 310.4l5 5M544.12 315.4l5 -5M548.11 213.3h7M551.61 209.8v7M549.11 210.8l5 5M549.11 215.8l5 -5M553.10 191.5h7M556.60 188.0v7M554.10 189.0l5 5M554.10 194.0l5 -5M558.09 284.4h7M561.59 280.9v7M559.09 281.9l5 5M559.09 286.9l5 -5M563.08 295.4h7M566.58 291.9v7M564.08 292.9l5 5M564.08 297.9l5 -5M568.07 214.5h7M571.57 211.0v7M569.07 212.0l5 5M569.07 217.0l5 -5M573.06 212.2h7M576.56 208.7v7M574.06 209.7l5 5M574.06 214.7l5 -5M578.05 293.5h7M581.55 290.0v7M579.05 291.0l5 5M579.05 296.0l5 -5M583.04 304.6h7M586.54 301.1v7M584.04 302.1l5 5M584.04 307.1l5 -5M588.03 201.1h7M591.53 197.6v7M589.03 198.6l5 5M589.03 203.6l5 -5M593.02 203.5h7M596.52 200.0v7M594.02 201.0l5 5M594.02 206.0l5 -5M598.01 290.2h7M601.51 286.7v7M599.01 287.7l5 5M599.01 292.7l5 -5M603.00 329.5h7M606.50 326.0v7M604.00 327.0l5 5M604.00 332.0l5 -5M607.99 247.8h7M611.49 244.3v7M608.99 245.3l5 5M608.99 250.3l5 -5M612.98 304.6h7M616.48 301.1v7M613.98 302.1l5 5M613.98 307.1l5 -5M617.97 381.4h7M621.47 377.9v7M618.97 378.9l5 5M618.97 383.9l5 -5M622.96 352.6h7M626.46 349.1v7M623.96 350.1l5 5M623.96 355.1l5 -5M627.95 253.8h7M631.45 250.3v7M628.95 251.3l5 5M628.95 256.3l5 -5M632.94 251.2h7M636.44 247.7v7M633.94 248.7l5 5M633.94 253.7l5 -5M637.93 328.3h7M641.43 324.8v7M638.93 325.8l5 5M638.93 330.8l5 -5M642.92 319.8h7M646.42 316.3v7M643.92 317.3l5 5M643.92 322.3l5 -5M647.91 239.3h7M651.41 235.8v7M648.91 236.8l5 5M648.91 241.8l5 -5M652.80 398.8h7M656.30 395.3v7M653.80 396.3l5 5M653.80 401.3l5 -5" stroke="#d6004f" stroke-width="1.1" fill="none"/>
<g style="font-family:'Liberation Sans',Arial,Helvetica,sans-serif;font-size:16px" fill="#262626" stroke="#262626" stroke-width="0.18" text-anchor="end">
<text x="53" y="76.2">12</text>
<text x="53" y="130.2">10</text>
<text x="53" y="185.2">8</text>
<text x="53" y="240.2">6</text>
<text x="53" y="295.2">4</text>
<text x="53" y="350.2">2</text>
<text x="53" y="405.2">0</text>
</g>
<g style="font-family:'Liberation Sans',Arial,Helvetica,sans-serif;font-size:16px" fill="#d6004f" stroke="#d6004f" stroke-width="0.18">
<text x="683.3" y="76.2" text-anchor="middle">24000</text>
<text x="683.3" y="130.2" text-anchor="middle">20000</text>
<text x="683.3" y="185.2" text-anchor="middle">16000</text>
<text x="683.3" y="240.2" text-anchor="middle">12000</text>
<text x="683.3" y="295.2" text-anchor="middle">8000</text>
<text x="683.3" y="350.2" text-anchor="middle">4000</text>
<text x="683.3" y="405.3" text-anchor="middle">0</text>
</g>
<g style="font-family:'Liberation Sans',Arial,Helvetica,sans-serif;font-size:16px" fill="#262626" stroke="#262626" stroke-width="0.18" text-anchor="middle">
<text x="57.75" y="420" textLength="39.17">11/01</text>
<text x="158.4" y="420" textLength="40.67">11/06</text>
<text x="256.7" y="420" textLength="40.48">11/11</text>
<text x="357.5" y="420" textLength="41.38">11/16</text>
<text x="456.7" y="420" textLength="39.48">11/21</text>
<text x="557.2" y="420" textLength="41.17">11/26</text>
<text x="655.9" y="420" textLength="38.88">12/01</text>
<text x="357.2" y="441" textLength="194.1">Nov.01,2019 00:00:00 start</text>
</g>
<text style="font-family:'Liberation Sans',Arial,Helvetica,sans-serif;font-size:16px" fill="#262626" stroke="#262626" stroke-width="0.18" text-anchor="middle" textLength="152.4" transform="translate(30.8 234.7) rotate(-90)">rmse and totalspread</text>
<text style="font-family:'Liberation Sans',Arial,Helvetica,sans-serif;font-size:16px" fill="#d6004f" stroke="#d6004f" stroke-width="0.18" text-anchor="middle" textLength="252.9" transform="translate(726.5 234.55) rotate(-90)"># of obs: o=possible; <tspan style="font-size:10px" dy="-1.5">×</tspan><tspan dy="1.5">=assimilated</tspan></text>
<g style="font-family:'Liberation Sans',Arial,Helvetica,sans-serif;font-size:16px;font-weight:bold" fill="#000" stroke="#000" stroke-width="0.18" text-anchor="middle">
<text x="356.65" y="41.9" textLength="390.8">Northern Hemisphere 1088386 / 1135291 = 95.868%</text>
<text x="356.5" y="61.8" textLength="301">ACARS_HORIZONTAL_WIND @ 400 hPa</text>
</g>
<line x1="397.5" y1="89.4" x2="427.3" y2="89.4" stroke="#000" stroke-width="2.5"/>
<path d="M408.8 89.4h7.2M412.4 85.6v7.6M409.8 86.7l5.2 5.4M409.8 92.1l5.2 -5.4" stroke="#000" stroke-width="1.9" stroke-linecap="round" fill="none"/><circle cx="412.4" cy="89.4" r="3.1"/>
<line x1="397.5" y1="110.4" x2="427.3" y2="110.4" stroke="#02807e" stroke-width="2.5"/>
<circle cx="412.4" cy="110.4" r="3.7" fill="#02807e"/>
<g style="font-family:'Liberation Sans',Arial,Helvetica,sans-serif;font-size:16px" fill="#0044ff" stroke="#0044ff" stroke-width="0.18">
<text x="430.2" y="95.9" textLength="168">rmse grand pr = 4.7698</text>
<text x="431.2" y="116.2" textLength="212.4">totalspread grand pr = 4.6588</text>
</g>
<text style="font-family:'Liberation Sans',Arial,Helvetica,sans-serif;font-size:8.2px" fill="#111" x="146" y="458.6" textLength="502.9" lengthAdjust="spacingAndGlyphs">data file: /Users/raeder/DAI/ATM_forcXX/CAM6_setup/f.e21.FHIST_BGC.f09_025.CAM6assim.011/Diags_NTrS_2019-11/obs_diag_output.nc</text>
</svg>
</body></html>
